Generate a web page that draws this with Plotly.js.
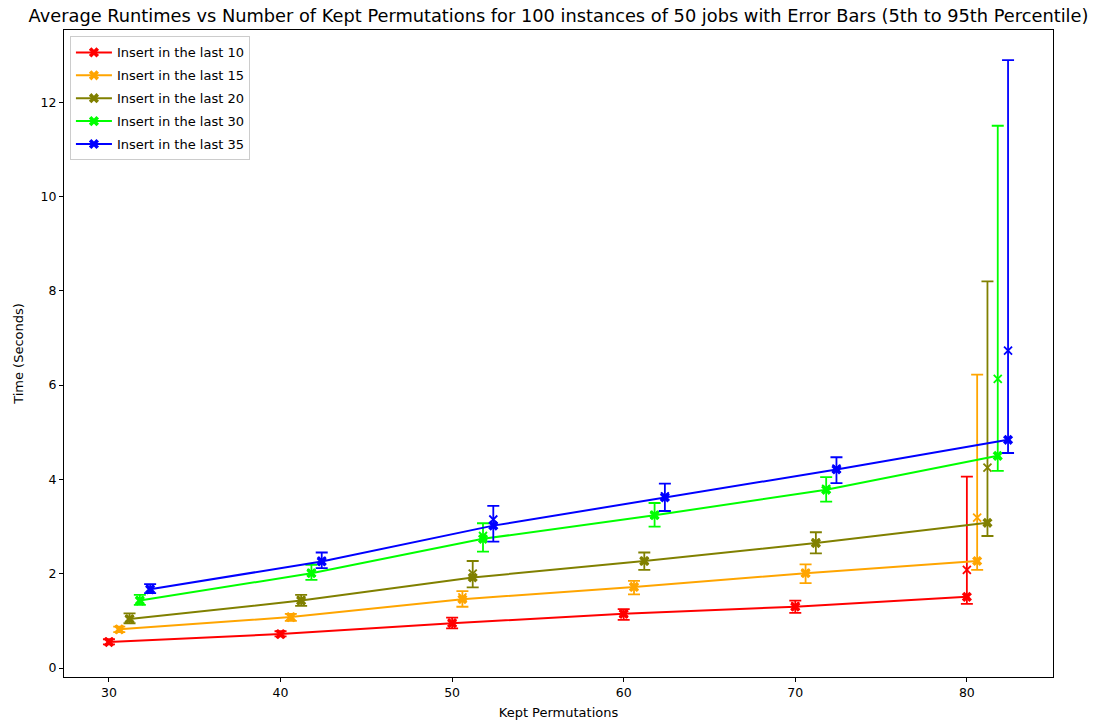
<!DOCTYPE html>
<html>
<head>
<meta charset="utf-8">
<script src="https://cdn.plot.ly/plotly-3.0.1.min.js"></script>
<style>html,body{margin:0;padding:0;background:#fff}#chart{width:1093px;height:723px}</style>
</head>
<body>
<div id="chart"></div>
<script>
// Kept permutations (base x positions)
const keptPermutations = [30, 40, 50, 60, 70, 80];
const seriesNames = ["Insert in the last 10", "Insert in the last 15", "Insert in the last 20", "Insert in the last 30", "Insert in the last 35"];
// Median runtimes (line + filled X markers)
const median10 = [0.55, 0.72, 0.95, 1.15, 1.30, 1.51];
const median15 = [0.82, 1.08, 1.46, 1.72, 2.01, 2.27];
const median20 = [1.04, 1.43, 1.92, 2.27, 2.65, 3.08];
const median30 = [1.43, 2.01, 2.74, 3.24, 3.78, 4.50];
const median35 = [1.67, 2.26, 3.02, 3.62, 4.21, 4.84];
// Mean runtimes (thin x markers)
const mean10 = [0.56, 0.72, 0.96, 1.15, 1.31, 2.08];
const mean15 = [0.82, 1.08, 1.50, 1.72, 2.02, 3.19];
const mean20 = [1.04, 1.44, 2.00, 2.27, 2.66, 4.25];
const mean30 = [1.43, 2.02, 2.80, 3.25, 3.80, 6.13];
const mean35 = [1.67, 2.27, 3.15, 3.64, 4.23, 6.73];
// 5th percentile
const p5_10 = [0.50, 0.67, 0.84, 1.02, 1.17, 1.36];
const p5_15 = [0.76, 1.00, 1.30, 1.56, 1.80, 2.08];
const p5_20 = [0.95, 1.32, 1.71, 2.08, 2.43, 2.80];
const p5_30 = [1.34, 1.87, 2.47, 3.00, 3.53, 4.18];
const p5_35 = [1.59, 2.12, 2.68, 3.33, 3.92, 4.56];
// 95th percentile
const p95_10 = [0.61, 0.78, 1.07, 1.25, 1.43, 4.06];
const p95_15 = [0.88, 1.15, 1.63, 1.85, 2.20, 6.22];
const p95_20 = [1.16, 1.55, 2.27, 2.45, 2.88, 8.20];
const p95_30 = [1.55, 2.19, 3.07, 3.50, 4.05, 11.50];
const p95_35 = [1.78, 2.45, 3.44, 3.91, 4.47, 12.89];

const medians = [median10, median15, median20, median30, median35];
const means = [mean10, mean15, mean20, mean30, mean35];
const p5s = [p5_10, p5_15, p5_20, p5_30, p5_35];
const p95s = [p95_10, p95_15, p95_20, p95_30, p95_35];
const colors = ["#ff0000", "#ffa500", "#808000", "#00ff00", "#0000ff"];
const xShift = 0.6; // horizontal dodge between series

const traces = [];
seriesNames.forEach((name, s) => {
  const xs = keptPermutations.map(k => k + s * xShift);
  const med = medians[s];
  traces.push({
    type: 'scatter', mode: 'lines+markers', name: name, legendgroup: 'g' + s,
    x: xs, y: med,
    line: {color: colors[s], width: 2},
    marker: {symbol: 'x', size: 9, color: colors[s], line: {width: 0}},
    error_y: {
      type: 'data', symmetric: false,
      array: p95s[s].map((v, i) => v - med[i]),
      arrayminus: p5s[s].map((v, i) => med[i] - v),
      color: colors[s], thickness: 1.8, width: 6
    }
  });
  traces.push({
    type: 'scatter', mode: 'markers', showlegend: false, name: name + ' mean', legendgroup: 'g' + s,
    x: xs, y: means[s],
    marker: {symbol: 'x-thin-open', size: 8, color: colors[s], line: {color: colors[s], width: 1.8}}
  });
});

const layout = {
  width: 1093, height: 723,
  paper_bgcolor: '#fff', plot_bgcolor: '#fff',
  font: {family: 'DejaVu Sans', size: 12, color: '#000'},
  margin: {l: 64, r: 40, t: 30, b: 46},
  title: {text: 'Average Runtimes vs Number of Kept Permutations for 100 instances of 50 jobs with Error Bars (5th to 95th Percentile)',
          font: {family: 'DejaVu Sans', size: 17.8, color: '#000'},
          xref: 'paper', x: 0.5, xanchor: 'center', yref: 'container', y: 0.978, yanchor: 'middle'},
  xaxis: {
    range: [27.38, 85.02], tickvals: [30, 40, 50, 60, 70, 80],
    ticks: 'outside', ticklen: 4, tickcolor: '#000',
    showline: true, mirror: true, linecolor: '#000', linewidth: 1,
    showgrid: false, zeroline: false,
    tickfont: {size: 12.5},
    title: {text: 'Kept Permutations', font: {size: 13}, standoff: 8}
  },
  yaxis: {
    range: [-0.19, 13.53], tickvals: [0, 2, 4, 6, 8, 10, 12],
    ticks: 'outside', ticklen: 4, tickcolor: '#000',
    showline: true, mirror: true, linecolor: '#000', linewidth: 1,
    showgrid: false, zeroline: false,
    tickfont: {size: 12.5},
    title: {text: 'Time (Seconds)', font: {size: 13}, standoff: 14}
  },
  legend: {
    x: 0.006, y: 0.99, xanchor: 'left', yanchor: 'top',
    bgcolor: 'rgba(255,255,255,0.8)', bordercolor: '#cccccc', borderwidth: 1,
    font: {size: 13}, itemwidth: 36, tracegroupgap: 3, traceorder: 'grouped'
  },
  showlegend: true
};

Plotly.newPlot('chart', traces, layout, {displayModeBar: false, staticPlot: true});
</script>
</body>
</html>
